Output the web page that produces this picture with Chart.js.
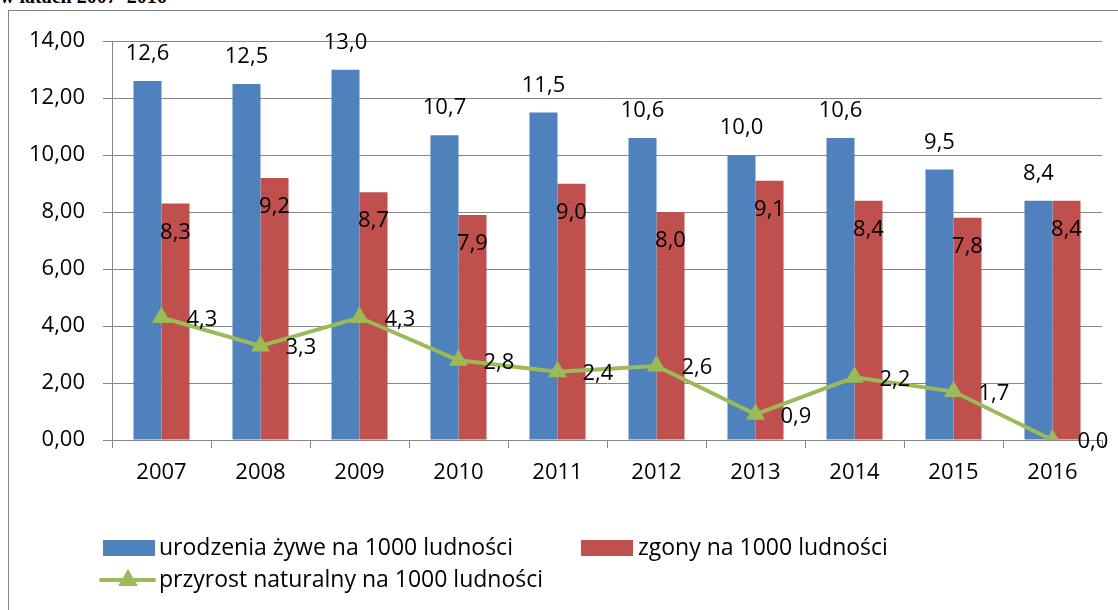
<!DOCTYPE html>
<html lang="pl">
<head>
<meta charset="utf-8">
<script src="https://cdn.jsdelivr.net/npm/chart.js@4.4.1/dist/chart.umd.min.js"></script>
<style>
  body { margin: 0; background: #fff; width: 1118px; height: 610px; overflow: hidden; position: relative; }
  #tytul { position: absolute; left: 0; top: -14px; font: bold 20px "Liberation Serif", "Times New Roman", serif; line-height: 20px; white-space: nowrap; }
  #ramka { position: absolute; left: 8px; top: 10px; width: 1130px; height: 640px; border: 1px solid #868686; }
  #wykres { position: absolute; left: 8px; top: 10px; }
</style>
</head>
<body>
<div id="tytul">w latach 2007–2016</div>
<div id="ramka"></div>
<canvas id="wykres" width="1110" height="600"></canvas>
<script>
// --- dane ---
const lata = ['2007', '2008', '2009', '2010', '2011', '2012', '2013', '2014', '2015', '2016'];
const urodzenia = [12.6, 12.5, 13.0, 10.7, 11.5, 10.6, 10.0, 10.6, 9.5, 8.4];
const zgony = [8.3, 9.2, 8.7, 7.9, 9.0, 8.0, 9.1, 8.4, 7.8, 8.4];
const przyrost = [4.3, 3.3, 4.3, 2.8, 2.4, 2.6, 0.9, 2.2, 1.7, 0.0];
const nazwySerii = ['urodzenia żywe na 1000 ludności', 'zgony na 1000 ludności', 'przyrost naturalny na 1000 ludności'];

const NIEBIESKI = '#4F81BD';
const CZERWONY = '#C0504D';
const ZIELONY = '#9BBB59';
const SZARY = '#868686';
const FONT = '"Open Sans", Lato, sans-serif';
const ROZMIAR = 22;

const liczba = (v) => v.toFixed(1).replace('.', ',');

// etykiety danych (jak w Excelu): niebieskie nad słupkiem, czerwone w środku, linia po prawej
const etykietyDanych = {
  id: 'etykietyDanych',
  afterDatasetsDraw(chart) {
    const ctx = chart.ctx;
    ctx.save();
    ctx.font = ROZMIAR + 'px ' + FONT;
    ctx.fillStyle = '#000';
    ctx.textBaseline = 'middle';
    chart.data.datasets.forEach((ds, i) => {
      const meta = chart.getDatasetMeta(i);
      meta.data.forEach((el, j) => {
        const txt = liczba(ds.data[j]);
        if (ds.kod === 'ur') {
          ctx.textAlign = 'center';
          ctx.fillText(txt, el.x, el.y - 27);
        } else if (ds.kod === 'zg') {
          ctx.textAlign = 'center';
          ctx.fillText(txt, el.x, el.y + 29);
        } else {
          ctx.textAlign = 'left';
          ctx.fillText(txt, el.x + 25, el.y + 2);
        }
      });
    });
    ctx.restore();
  }
};

// legenda rysowana ręcznie (linia + trójkąt)
const legenda = {
  id: 'legenda',
  afterDraw(chart) {
    const ctx = chart.ctx;
    ctx.save();
    ctx.font = '23px ' + FONT;
    ctx.textAlign = 'left';
    ctx.textBaseline = 'middle';
    const y1 = 538, y2 = 570;
    // urodzenia
    ctx.fillStyle = NIEBIESKI;
    ctx.fillRect(95, y1 - 8, 52, 16);
    ctx.fillStyle = '#000';
    ctx.fillText(nazwySerii[0], 151, y1);
    // zgony
    ctx.fillStyle = CZERWONY;
    ctx.fillRect(573, y1 - 8, 52, 16);
    ctx.fillStyle = '#000';
    ctx.fillText(nazwySerii[1], 630, y1);
    // przyrost
    ctx.strokeStyle = ZIELONY;
    ctx.lineWidth = 4;
    ctx.lineCap = 'round';
    ctx.beginPath();
    ctx.moveTo(93, y2); ctx.lineTo(146, y2);
    ctx.stroke();
    ctx.fillStyle = ZIELONY;
    ctx.beginPath();
    ctx.moveTo(120, y2 - 11); ctx.lineTo(130, y2 + 6); ctx.lineTo(110, y2 + 6);
    ctx.closePath(); ctx.fill();
    ctx.fillStyle = '#000';
    ctx.fillText(nazwySerii[2], 151, y2);
    ctx.restore();
  }
};

new Chart(document.getElementById('wykres'), {
  type: 'bar',
  data: {
    labels: lata,
    datasets: [
      {
        type: 'line',
        kod: 'pn',
        label: nazwySerii[2],
        data: przyrost,
        borderColor: ZIELONY,
        backgroundColor: ZIELONY,
        borderWidth: 4,
        pointStyle: 'triangle',
        pointRadius: 11,
        pointBorderWidth: 0,
        tension: 0,
        order: 0
      },
      { kod: 'ur', label: nazwySerii[0], data: urodzenia, backgroundColor: NIEBIESKI, order: 1 },
      { kod: 'zg', label: nazwySerii[1], data: zgony, backgroundColor: CZERWONY, order: 1 }
    ]
  },
  options: {
    responsive: false,
    animation: false,
    layout: { padding: { top: 30, right: 16, bottom: 110, left: 0 } },
    datasets: { bar: { categoryPercentage: 0.566, barPercentage: 1 } },
    plugins: { legend: { display: false }, tooltip: { enabled: false } },
    scales: {
      x: {
        grid: { display: true, drawOnChartArea: false, tickLength: 8, color: SZARY, offset: true },
        border: { display: true, color: SZARY },
        ticks: { font: { family: FONT, size: ROZMIAR }, color: '#000', padding: 12 },
        afterFit(scale) { scale.height = 60; }
      },
      y: {
        min: 0, max: 14,
        ticks: {
          stepSize: 2,
          font: { family: FONT, size: ROZMIAR }, color: '#000', padding: 18,
          callback: (v) => v.toFixed(2).replace('.', ',')
        },
        grid: { color: SZARY, tickLength: 9 },
        border: { display: true, color: SZARY },
        afterFit(scale) { scale.width = 104; }
      }
    }
  },
  plugins: [etykietyDanych, legenda]
});
</script>
</body>
</html>
